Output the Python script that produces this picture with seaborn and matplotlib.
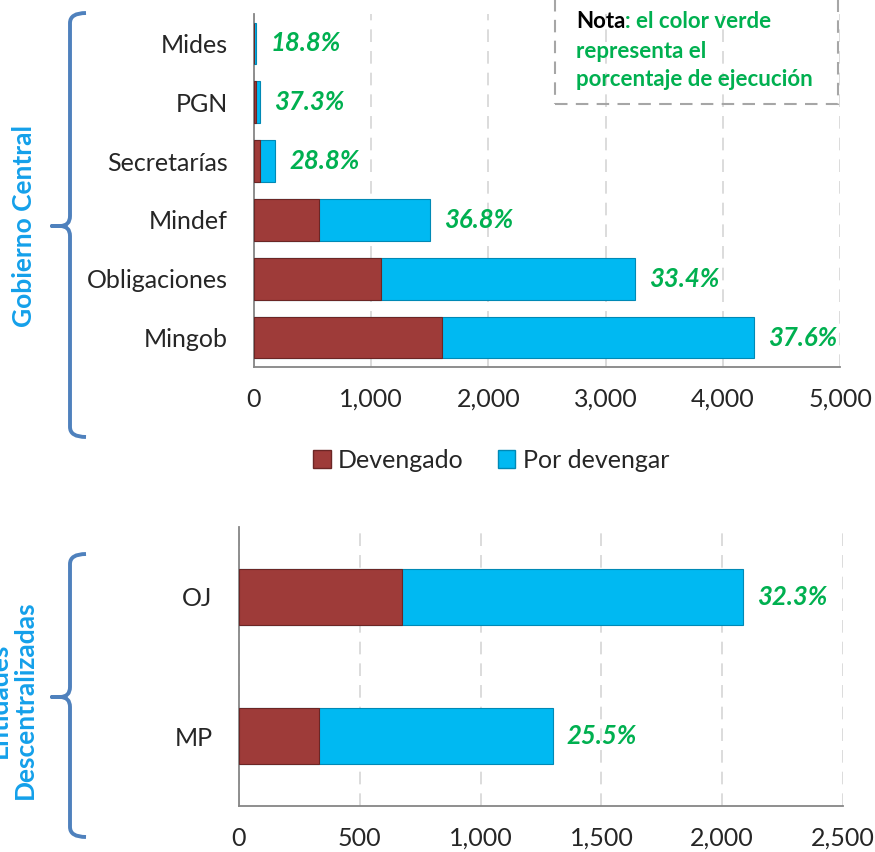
import matplotlib
matplotlib.use("Agg")
import matplotlib.pyplot as plt
import seaborn as sns
import pandas as pd
from matplotlib.path import Path
from matplotlib.patches import PathPatch, Rectangle
from matplotlib.ticker import FuncFormatter, MultipleLocator

# Gobierno Central (millones)
central = ['Mides', 'PGN', 'Secretarías', 'Mindef', 'Obligaciones', 'Mingob']
central_total = [20, 55, 180, 1500, 3255, 4270]
central_dev = [4, 20, 52, 552, 1087, 1605]
central_pct = ['18.8%', '37.3%', '28.8%', '36.8%', '33.4%', '37.6%']

# Entidades Descentralizadas
desc = ['OJ', 'MP']
desc_total = [2085, 1300]
desc_dev = [674, 332]
desc_pct = ['32.3%', '25.5%']

legend_labels = ['Devengado', 'Por devengar']

RED = '#9E3B39'
BLUE = '#00B9F2'
GREEN = '#00B050'
GRAY = '#868686'
BRACE = '#4F81BD'
LABEL_BLUE = '#14A0EA'

W, H = 875, 852
fontsize = 18

sns.set_style("white")
plt.rcParams['font.family'] = ['Lato', 'DejaVu Sans']

fig = plt.figure(figsize=(W / 100, H / 100), dpi=100)


def px_box(left, top, right, bottom):
    # caja en pixeles -> fracciones de figura
    return [left / W, 1 - bottom / H, (right - left) / W, (bottom - top) / H]


def draw_panel(ax, cats, total, dev, pct, xmax, step, width):
    df = pd.DataFrame({'cat': cats, 'total': total, 'dev': dev})
    sns.barplot(data=df, y='cat', x='total', color=BLUE, width=width, ax=ax,
                saturation=1, edgecolor='#0089B5', linewidth=0.8, zorder=3)
    sns.barplot(data=df, y='cat', x='dev', color=RED, width=width, ax=ax,
                saturation=1, edgecolor='#6B2625', linewidth=0.8, zorder=4)
    for i, (t, p) in enumerate(zip(total, pct)):
        ax.annotate(p, xy=(t, i), xytext=(10, 0), textcoords='offset points',
                    ha='left', va='center', color=GREEN, fontsize=fontsize + 0.5,
                    fontweight='bold', fontstyle='italic')
    n = len(cats)
    ax.set_xlim(0, xmax)
    ax.set_ylim(n - 0.5, -0.5)
    ax.xaxis.set_major_locator(MultipleLocator(step))
    ax.xaxis.set_major_formatter(FuncFormatter(lambda v, _: f'{v:,.0f}'))
    ax.set_axisbelow(True)
    ax.grid(axis='x', color='#D9D9D9', linestyle=(0, (7, 5)), linewidth=1.3)
    ax.grid(axis='y', visible=False)
    ax.set_xlabel('')
    ax.set_ylabel('')
    for s in ['top', 'right']:
        ax.spines[s].set_visible(False)
    for s in ['left', 'bottom']:
        ax.spines[s].set_color(GRAY)
        ax.spines[s].set_linewidth(1.3)
    ax.set_yticks([i - 0.5 for i in range(n + 1)], minor=True)
    ax.tick_params(axis='y', which='major', length=0, pad=19, labelsize=fontsize)
    ax.tick_params(axis='y', which='minor', length=6, width=1.3, color=GRAY, direction='out')
    ax.tick_params(axis='x', which='major', length=6, width=1.3, color=GRAY,
                   direction='out', pad=9, labelsize=fontsize)
    ax.tick_params(axis='x', which='minor', length=0)


ax1 = fig.add_axes(px_box(254, 14, 840, 367))
draw_panel(ax1, central, central_total, central_dev, central_pct, 5000, 1000, 0.71)

ax2 = fig.add_axes(px_box(239, 527, 843, 806))
draw_panel(ax2, desc, desc_total, desc_dev, desc_pct, 2500, 500, 0.40)

# leyenda
handles = [Rectangle((0, 0), 1, 1, facecolor=RED, edgecolor='#6B2625'),
           Rectangle((0, 0), 1, 1, facecolor=BLUE, edgecolor='#0089B5')]
fig.legend(handles, legend_labels, loc='center', bbox_to_anchor=(491 / W, 1 - 460 / H),
           ncol=2, frameon=False, fontsize=fontsize, handlelength=0.7, handleheight=0.7,
           handletextpad=0.3, columnspacing=1.35)


def brace(top, bottom, mid, x_line=70, x_hook=86, x_tip=52, r=10):
    pts = [(x_hook, top), (x_line, top), (x_line, top + r),
           (x_line, mid - r), (x_line, mid), (x_line - r, mid),
           (x_tip, mid), (x_line - r, mid),
           (x_line, mid), (x_line, mid + r),
           (x_line, bottom - r), (x_line, bottom), (x_hook, bottom)]
    codes = [Path.MOVETO, Path.CURVE3, Path.CURVE3,
             Path.LINETO, Path.CURVE3, Path.CURVE3,
             Path.LINETO, Path.LINETO,
             Path.CURVE3, Path.CURVE3,
             Path.LINETO, Path.CURVE3, Path.CURVE3]
    verts = [(x / W, 1 - y / H) for x, y in pts]
    fig.patches.append(PathPatch(Path(verts, codes), transform=fig.transFigure,
                                 fill=False, edgecolor=BRACE, linewidth=2.8,
                                 capstyle='butt', joinstyle='round'))


brace(13, 437, 226)
brace(554, 837, 697)

fig.text(24 / W, 1 - 226 / H, 'Gobierno Central', rotation=90, ha='center', va='center',
         color=LABEL_BLUE, fontsize=19, fontweight='bold')
fig.text(12 / W, 1 - 700 / H, 'Entidades\nDescentralizadas', rotation=90, ha='center',
         va='center', multialignment='center', linespacing=1.1,
         color=LABEL_BLUE, fontsize=19, fontweight='bold')

# nota
fig.patches.append(Rectangle((555 / W, 1 - 104 / H), (838 - 555) / W, 130 / H,
                             transform=fig.transFigure, fill=False, edgecolor='#A6A6A6',
                             linewidth=1.5, linestyle=(0, (6, 4))))
t1 = fig.text(576 / W, 1 - 22 / H, 'Nota', ha='left', va='center', color='black',
              fontsize=16, fontweight='bold')
fig.text(576 / W, 1 - 51 / H, 'representa el', ha='left', va='center', color=GREEN,
         fontsize=16, fontweight='bold')
fig.text(576 / W, 1 - 80 / H, 'porcentaje de ejecución', ha='left', va='center',
         color=GREEN, fontsize=16, fontweight='bold')
ax1.annotate(': el color verde', xy=(1, 0), xycoords=t1, ha='left', va='bottom',
             color=GREEN, fontsize=16, fontweight='bold', annotation_clip=False)

fig.savefig('out.png', dpi=100)
